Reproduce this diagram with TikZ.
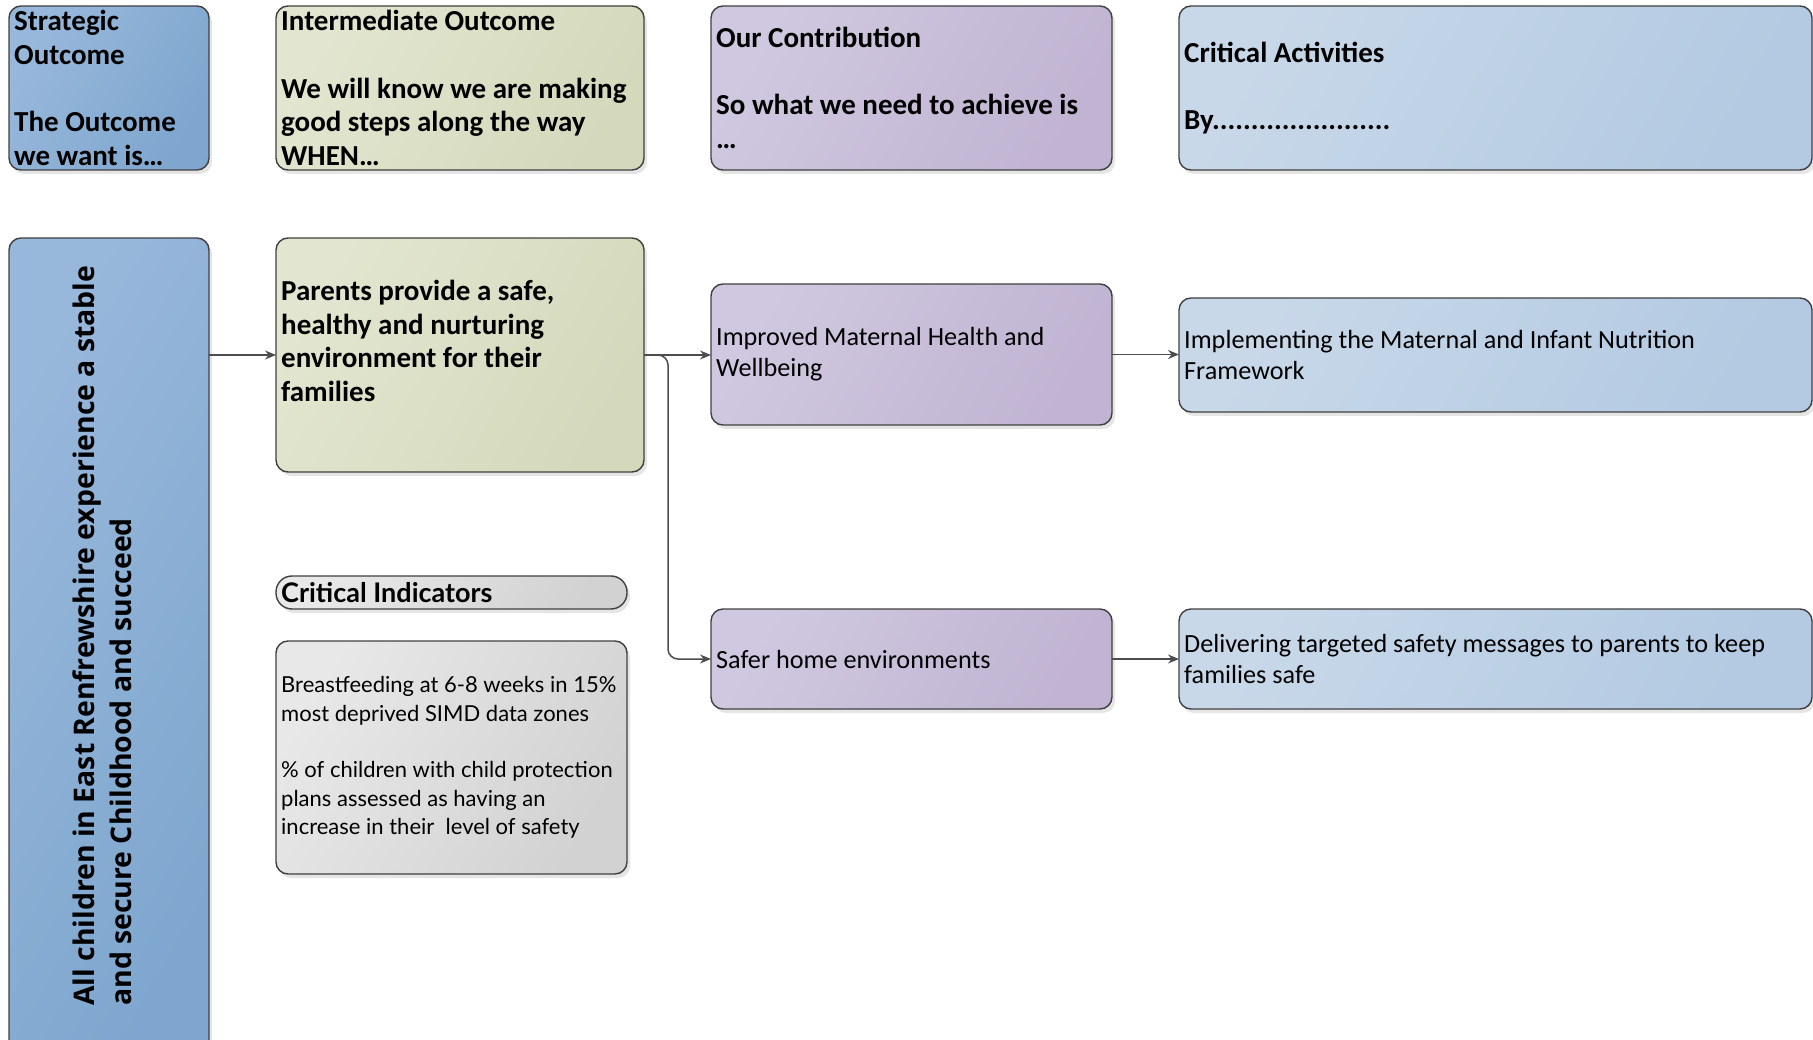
\documentclass[tikz,border=0pt]{standalone}
\usepackage{fontspec}
\setmainfont{Carlito}
\newfontfamily\osans{Open Sans}
\newfontfamily\indfont{Lato}
\usetikzlibrary{arrows.meta,shadows,calc}
\definecolor{bdr}{HTML}{404040}
\definecolor{lnk}{HTML}{4D4D4D}
\definecolor{sbA}{HTML}{98B8DB}
\definecolor{sbB}{HTML}{7EA6CE}
\definecolor{olA}{HTML}{E2E6D0}
\definecolor{olB}{HTML}{D4D9BC}
\definecolor{puA}{HTML}{D0C8E0}
\definecolor{puB}{HTML}{C0B4D2}
\definecolor{lbA}{HTML}{C8D8E9}
\definecolor{lbB}{HTML}{B3CAE2}
\definecolor{grA}{HTML}{E8E8E8}
\definecolor{grB}{HTML}{D2D2D2}
\tikzset{
  box/.style={draw=bdr, line width=1.4pt, rounded corners=12pt, anchor=north west,
    inner sep=0pt, outer sep=0pt,
    drop shadow={shadow xshift=3pt, shadow yshift=-4pt, fill=black, opacity=0.10}},
  fS/.style={left color=sbA, right color=sbB, shading angle=60},
  fO/.style={left color=olA, right color=olB, shading angle=60},
  fP/.style={left color=puA, right color=puB, shading angle=60},
  fB/.style={left color=lbA, right color=lbB, shading angle=60},
  fG/.style={left color=grA, right color=grB, shading angle=60},
  hdr/.style={font=\bfseries\fontsize{29}{33.8}\selectfont, align=left, anchor=west, inner sep=0pt},
  body/.style={font=\fontsize{26.2}{31}\selectfont, align=left, anchor=west, inner sep=0pt},
  indbody/.style={font=\indfont\fontsize{22}{28.3}\selectfont, align=left, anchor=west, inner sep=0pt},
  conn/.style={draw=lnk, line width=1.5pt, -{Stealth[length=11pt,width=9pt]}},
}
\begin{document}
\begin{tikzpicture}[x=1pt,y=-1pt]
\useasboundingbox (0,0) rectangle (1813,1040);
\clip (0,0) rectangle (1813,1040);
% header row
\node[box,fS,minimum width=200pt,minimum height=164pt] (hS) at (9,6) {};
\node[box,fO,minimum width=368pt,minimum height=164pt] (hI) at (276,6) {};
\node[box,fP,minimum width=401pt,minimum height=164pt] (hC) at (711,6) {};
\node[box,fB,minimum width=633pt,minimum height=164pt] (hA) at (1179,6) {};
\node[hdr] (tS) at ([xshift=5pt]hS.west) {Strategic\\Outcome\\~\\The Outcome\\we want is…};
\node[hdr] (tI) at ([xshift=5pt]hI.west) {Intermediate Outcome\\~\\We will know we are making\\good steps along the way\\WHEN…};
\node[hdr] (tC) at ([xshift=5pt]hC.west) {Our Contribution\\~\\So what we need to achieve is\\…};
\node[hdr] (tA) at ([xshift=5pt]hA.west) {Critical Activities\\~\\By.......................};
% main row
\node[box,fS,minimum width=200pt,minimum height=840pt] (sO) at (9,238) {};
\node[box,fO,minimum width=368pt,minimum height=234pt] (pP) at (276,238) {};
\node[box,fG,rounded corners=16pt,minimum width=351pt,minimum height=33pt] (pill) at (276,576) {};
\node[box,fG,minimum width=351pt,minimum height=233pt] (ind) at (276,641) {};
\node[box,fP,minimum width=401pt,minimum height=141pt] (cM) at (711,284) {};
\node[box,fP,minimum width=401pt,minimum height=100pt] (cS) at (711,609) {};
\node[box,fB,minimum width=633pt,minimum height=114pt] (aM) at (1179,298) {};
\node[box,fB,minimum width=633pt,minimum height=100pt] (aS) at (1179,609) {};
% texts
\node[rotate=90, anchor=west, align=left, inner sep=0pt,
      font=\osans\bfseries\fontsize{28.4}{37}\selectfont] (tO) at (102,1006)
  {All children in East Renfrewshire experience a stable\\and secure Childhood and succeed};
\node[hdr] (tP) at ([xshift=5pt,yshift=14pt]pP.west) {Parents provide a safe,\\healthy and nurturing\\environment for their\\families};
\node[font=\indfont\bfseries\fontsize{27}{30}\selectfont, anchor=west, inner sep=0pt] (tPill) at ([xshift=5pt]pill.west) {Critical Indicators};
\node[indbody] (tInd) at ([xshift=5pt]ind.west) {Breastfeeding at 6-8 weeks in 15\%\\most deprived SIMD data zones\\~\\\% of children with child protection\\plans assessed as having an\\increase in their\ \ level of safety};
\node[body] (tM) at ([xshift=5pt]cM.west) {Improved Maternal Health and\\Wellbeing};
\node[body] (tSf) at ([xshift=5pt]cS.west) {Safer home environments};
\node[body] (tAM) at ([xshift=5pt]aM.west) {Implementing the Maternal and Infant Nutrition\\Framework};
\node[body] (tAS) at ([xshift=5pt]aS.west) {Delivering targeted safety messages to parents to keep\\families safe};
% connectors
\draw[conn] (sO.east |- pP.west) -- (pP.west);
\draw[conn] (pP.east) -- (cM.west |- pP.east);
\draw[conn, rounded corners=10pt] (pP.east) -| ([xshift=24pt]pP.east |- cS.west) -- (cS.west);
\draw[conn] (cM.east) -- (aM.west |- cM.east);
\draw[conn] (cS.east) -- (aS.west);
\end{tikzpicture}
\end{document}
